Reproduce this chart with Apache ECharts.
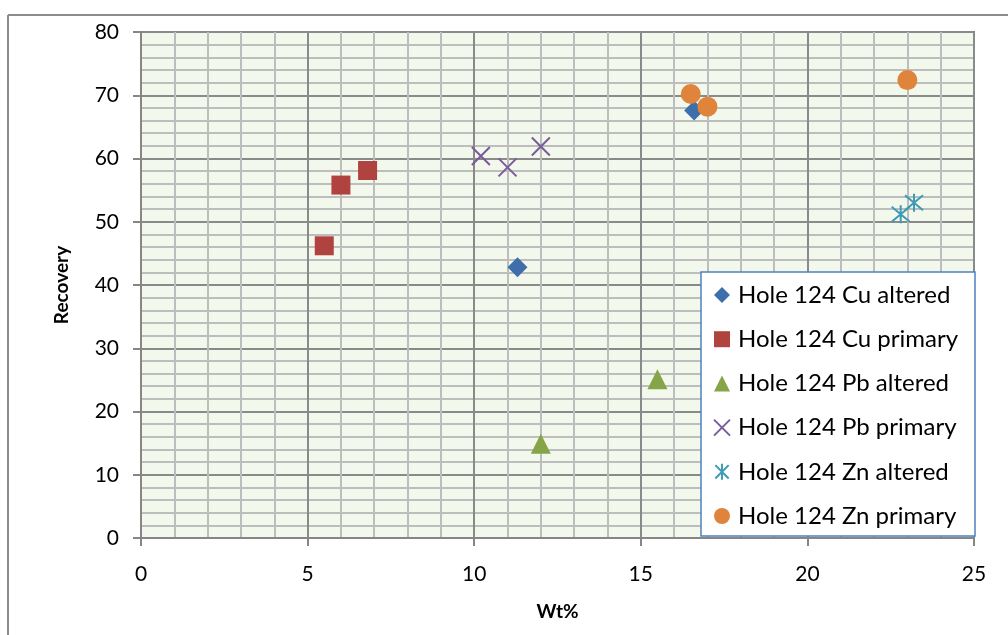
<!DOCTYPE html>
<html><head><meta charset="utf-8">
<script src="https://cdn.jsdelivr.net/npm/echarts@6/dist/echarts.min.js"></script>
<style>html,body{margin:0;padding:0;background:#fff}#c{width:1008px;height:635px}</style>
</head><body><div id="c"></div>
<script>
const seriesNames = ['Hole 124 Cu altered','Hole 124 Cu primary','Hole 124 Pb altered','Hole 124 Pb primary','Hole 124 Zn altered','Hole 124 Zn primary'];
const cuAltered = [[11.3, 42.8], [16.6, 67.6]];
const cuPrimary = [[5.5, 46.2], [6.0, 55.8], [6.8, 58.1]];
const pbAltered = [[12.0, 14.9], [15.5, 25.1]];
const pbPrimary = [[10.2, 60.4], [11.0, 58.6], [12.0, 61.9]];
const znAltered = [[22.8, 51.2], [23.2, 53.0]];
const znPrimary = [[16.5, 70.2], [17.0, 68.2], [23.0, 72.4]];
const xTicks = [0, 5, 10, 15, 20, 25];
const yTicks = [0, 10, 20, 30, 40, 50, 60, 70, 80];

const FONT = 'Lato';
const chart = echarts.init(document.getElementById('c'));
const xPath = 'path://M0,0L20,20M20,0L0,20';
const starPath = 'path://M0,0L20,20M20,0L0,20M10,-2L10,22';
const mk = (name, data, symbol, size, color, stroke) => ({
  name, type: 'scatter', data, symbol, symbolSize: size,
  itemStyle: stroke ? {color: 'rgba(0,0,0,0)', borderColor: color, borderWidth: 2, opacity: 1} : {color: color, opacity: 1},
  emphasis: {disabled: true}
});
chart.setOption({
  animation: false,
  textStyle: {fontFamily: FONT},
  grid: {left: 141, top: 32, width: 833, height: 506, show: true,
    backgroundColor: '#f3f8ec', borderColor: '#4f81bd', borderWidth: 2},
  xAxis: {type: 'value', min: xTicks[0], max: xTicks[xTicks.length-1], interval: 5,
    name: 'Wt%', nameLocation: 'middle', nameGap: 64,
    nameTextStyle: {fontFamily: FONT, fontSize: 19, fontWeight: 'bold', color: '#000'},
    axisLine: {show: true, onZero: false, lineStyle: {color: '#868686', width: 2}},
    axisTick: {show: true, length: 8, lineStyle: {color: '#868686', width: 2}},
    axisLabel: {fontFamily: FONT, fontSize: 21, color: '#000', margin: 26},
    splitLine: {show: true, lineStyle: {color: '#8a8a8a', width: 2}},
    minorTick: {show: true, splitNumber: 5, length: 0},
    minorSplitLine: {show: true, lineStyle: {color: '#bdbdbd', width: 2}}
  },
  yAxis: {type: 'value', min: yTicks[0], max: yTicks[yTicks.length-1], interval: 10,
    name: 'Recovery', nameLocation: 'middle', nameGap: 70,
    nameTextStyle: {fontFamily: FONT, fontSize: 19, fontWeight: 'bold', color: '#000'},
    axisLine: {show: true, onZero: false, lineStyle: {color: '#868686', width: 2}},
    axisTick: {show: true, length: 8, lineStyle: {color: '#868686', width: 2}},
    axisLabel: {fontFamily: FONT, fontSize: 21, color: '#000', margin: 22},
    splitLine: {show: true, lineStyle: {color: '#8a8a8a', width: 2}},
    minorTick: {show: true, splitNumber: 5, length: 0},
    minorSplitLine: {show: true, lineStyle: {color: '#bdbdbd', width: 2}}
  },
  legend: {orient: 'vertical', left: 713, top: 283, padding: 0,
    itemWidth: 16, itemHeight: 16, itemGap: 20.2, z: 10,
    textStyle: {fontFamily: FONT, fontSize: 24, color: '#000', padding: [0,0,0,3]},
    data: seriesNames},
  graphic: [
    {type: 'line', shape: {x1: 8, y1: 15, x2: 1008, y2: 15}, style: {stroke: '#8c8c8c', lineWidth: 2}, silent: true},
    {type: 'line', shape: {x1: 8, y1: 15, x2: 8, y2: 635}, style: {stroke: '#8c8c8c', lineWidth: 2}, silent: true},
    {type: 'rect', shape: {x: 701, y: 272, width: 274, height: 264}, style: {fill: '#fff', stroke: '#4f81bd', lineWidth: 1.5}, z: 5, silent: true}
  ],
  series: [
    mk(seriesNames[0], cuAltered, 'diamond', 20, '#3f6fab'),
    mk(seriesNames[1], cuPrimary, 'rect', 19, '#b0433f'),
    mk(seriesNames[2], pbAltered, 'triangle', 20, '#86a448'),
    mk(seriesNames[3], pbPrimary, xPath, 18, '#7a5c9a', true),
    mk(seriesNames[4], znAltered, starPath, 18, '#3d9bb5', true),
    mk(seriesNames[5], znPrimary, 'circle', 20, '#e0843b')
  ]
});
</script></body></html>
